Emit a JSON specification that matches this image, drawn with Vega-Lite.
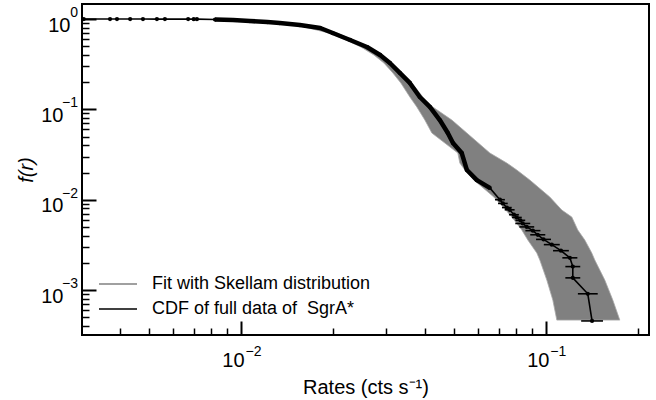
{
  "$schema": "https://vega.github.io/schema/vega-lite/v6.json",
  "width": 567,
  "height": 331,
  "autosize": "none",
  "padding": {"left": 82, "top": 4, "right": 7, "bottom": 65},
  "config": {
    "view": {"stroke": "black", "strokeWidth": 2},
    "font": "Liberation Sans",
    "axis": {"grid": false, "domain": false, "labelColor": "black", "tickColor": "black", "titleColor": "black", "labelFlush": false, "labelOverlap": false, "labelBound": false}
  },
  "datasets": {
    "band": [
      {"f": 0.9748, "lo": 0.00941, "hi": 0.01008},
      {"f": 0.9264, "lo": 0.01172, "hi": 0.01264},
      {"f": 0.8582, "lo": 0.01514, "hi": 0.01609},
      {"f": 0.6999, "lo": 0.01943, "hi": 0.02065},
      {"f": 0.5856, "lo": 0.02210, "hi": 0.02329},
      {"f": 0.4898, "lo": 0.02475, "hi": 0.02628},
      {"f": 0.3995, "lo": 0.02730, "hi": 0.02900},
      {"f": 0.3257, "lo": 0.02944, "hi": 0.03127},
      {"f": 0.2525, "lo": 0.03151, "hi": 0.03372},
      {"f": 0.1956, "lo": 0.03346, "hi": 0.03637},
      {"f": 0.1369, "lo": 0.03582, "hi": 0.03951},
      {"f": 0.1061, "lo": 0.03776, "hi": 0.04261},
      {"f": 0.07617, "lo": 0.04011, "hi": 0.04918},
      {"f": 0.05469, "lo": 0.04229, "hi": 0.05508},
      {"f": 0.03284, "lo": 0.05145, "hi": 0.06554},
      {"f": 0.02545, "lo": 0.05224, "hi": 0.07449},
      {"f": 0.02130, "lo": 0.05426, "hi": 0.08033},
      {"f": 0.01650, "lo": 0.05806, "hi": 0.08862},
      {"f": 0.01070, "lo": 0.06754, "hi": 0.10307},
      {"f": 0.007683, "lo": 0.07393, "hi": 0.11283},
      {"f": 0.006427, "lo": 0.07737, "hi": 0.12169},
      {"f": 0.004613, "lo": 0.08341, "hi": 0.12733},
      {"f": 0.003577, "lo": 0.08730, "hi": 0.13424},
      {"f": 0.002568, "lo": 0.09344, "hi": 0.14152},
      {"f": 0.002148, "lo": 0.09558, "hi": 0.14477},
      {"f": 0.001290, "lo": 0.10076, "hi": 0.15612},
      {"f": 0.000775, "lo": 0.10543, "hi": 0.16585},
      {"f": 0.000465, "lo": 0.10866, "hi": 0.17485}
    ],
    "cdf": [
      {"x": 0.00305, "f": 1.0},
      {"x": 0.00372, "f": 0.9995},
      {"x": 0.00392, "f": 0.9994},
      {"x": 0.00433, "f": 0.9991},
      {"x": 0.00477, "f": 0.9986},
      {"x": 0.00530, "f": 0.9982},
      {"x": 0.00563, "f": 0.9977},
      {"x": 0.00671, "f": 0.9973},
      {"x": 0.00700, "f": 0.9968},
      {"x": 0.00717, "f": 0.9964},
      {"x": 0.00822, "f": 0.987},
      {"x": 0.00941, "f": 0.975},
      {"x": 0.0107, "f": 0.950},
      {"x": 0.0122, "f": 0.926},
      {"x": 0.0134, "f": 0.903},
      {"x": 0.0156, "f": 0.858},
      {"x": 0.0182, "f": 0.795},
      {"x": 0.0200, "f": 0.700},
      {"x": 0.0228, "f": 0.586},
      {"x": 0.0259, "f": 0.490},
      {"x": 0.0286, "f": 0.400},
      {"x": 0.0308, "f": 0.326},
      {"x": 0.0332, "f": 0.253},
      {"x": 0.0358, "f": 0.196},
      {"x": 0.0386, "f": 0.137},
      {"x": 0.0417, "f": 0.106},
      {"x": 0.0449, "f": 0.0762},
      {"x": 0.0477, "f": 0.0547},
      {"x": 0.0496, "f": 0.0424},
      {"x": 0.0530, "f": 0.0328},
      {"x": 0.0551, "f": 0.0213},
      {"x": 0.0594, "f": 0.0165},
      {"x": 0.0655, "f": 0.0135},
      {"x": 0.0707, "f": 0.0100, "xlo": 0.0681, "xhi": 0.0734},
      {"x": 0.0723, "f": 0.00909, "xlo": 0.0697, "xhi": 0.0750},
      {"x": 0.0745, "f": 0.00818, "xlo": 0.0718, "xhi": 0.0773},
      {"x": 0.0761, "f": 0.00773, "xlo": 0.0733, "xhi": 0.0790},
      {"x": 0.0786, "f": 0.00682, "xlo": 0.0757, "xhi": 0.0816},
      {"x": 0.0803, "f": 0.00636, "xlo": 0.0774, "xhi": 0.0834},
      {"x": 0.0825, "f": 0.00591, "xlo": 0.0795, "xhi": 0.0856},
      {"x": 0.0840, "f": 0.005455, "xlo": 0.0794, "xhi": 0.0889},
      {"x": 0.0866, "f": 0.0050, "xlo": 0.0819, "xhi": 0.0916},
      {"x": 0.0907, "f": 0.004545, "xlo": 0.0857, "xhi": 0.0960},
      {"x": 0.0941, "f": 0.004091, "xlo": 0.0889, "xhi": 0.0996},
      {"x": 0.0983, "f": 0.003636, "xlo": 0.0929, "xhi": 0.1040},
      {"x": 0.1046, "f": 0.003182, "xlo": 0.0985, "xhi": 0.1111},
      {"x": 0.1121, "f": 0.002727, "xlo": 0.1056, "xhi": 0.1190},
      {"x": 0.1199, "f": 0.002273, "xlo": 0.1133, "xhi": 0.1269},
      {"x": 0.1226, "f": 0.001818, "xlo": 0.1159, "xhi": 0.1297},
      {"x": 0.1226, "f": 0.001364, "xlo": 0.1159, "xhi": 0.1297},
      {"x": 0.1373, "f": 0.000909, "xlo": 0.1274, "xhi": 0.1480},
      {"x": 0.1418, "f": 0.000455, "xlo": 0.1306, "xhi": 0.1540}
    ]
  },
  "resolve": {"axis": {"x": "independent", "y": "independent"}},
  "layer": [
    {
      "data": {"name": "band"},
      "mark": {"type": "area", "orient": "horizontal", "stroke": "#a8a8a8", "strokeWidth": 0.8},
      "encoding": {
        "y": {"field": "f", "type": "quantitative",
          "scale": {"type": "log", "domain": [0.000318, 1.466], "nice": false},
          "axis": {"orient": "left", "values": [0.001, 0.01, 0.1, 1], "labels": false, "ticks": true, "tickSize": -14, "tickWidth": 2, "title": null}},
        "x": {"field": "lo", "type": "quantitative",
          "scale": {"type": "log", "domain": [0.00301, 0.218], "nice": false},
          "axis": {"orient": "bottom", "values": [0.01, 0.1], "labels": false, "ticks": true, "tickSize": -14, "tickWidth": 2, "title": null}},
        "x2": {"field": "hi"},
        "color": {"datum": "Fit with Skellam distribution", "type": "nominal",
          "scale": {"domain": ["Fit with Skellam distribution", "CDF of full data of \u00a0SgrA*"], "range": ["#808080", "#000000"]},
          "legend": {
            "orient": "none", "legendX": 16, "legendY": 269.5, "title": null,
            "symbolType": "M-1,0H3", "symbolSize": 361, "symbolStrokeWidth": 1.5,
            "labelFontSize": 18, "labelFont": "Liberation Sans", "labelOffset": 33, "rowPadding": 5, "labelLimit": 500,
            "encode": {
              "labels": {"update": {"fill": {"signal": "indexof(datum.label, 'CDF') >= 0 ? '#000000' : '#8c8c8c'"}}},
              "symbols": {
                "shape": {"condition": {"test": "indexof(datum.label, 'CDF') >= 0", "value": "M-1,0H3M1.17,0A0.17,0.17,0,1,1,0.83,0A0.17,0.17,0,1,1,1.17,0Z"}, "value": "M-1,0H3"},
                "fill": {"condition": {"test": "indexof(datum.label, 'CDF') >= 0", "value": "#000000"}, "value": "transparent"}
              }
            }
          }}
      }
    },
    {
      "data": {"name": "cdf"},
      "transform": [{"filter": "datum.f < 0.99 && datum.f > 0.0105"}],
      "mark": {"type": "line", "color": "black", "strokeWidth": 4.5, "strokeJoin": "round"},
      "encoding": {
        "x": {"field": "x", "type": "quantitative",
          "axis": {"orient": "bottom", "values": [0.004, 0.005, 0.006, 0.007, 0.008, 0.009, 0.02, 0.03, 0.04, 0.05, 0.06, 0.07, 0.08, 0.09, 0.2], "labels": false, "ticks": true, "tickSize": -7, "tickWidth": 1.5, "title": null}},
        "y": {"field": "f", "type": "quantitative",
          "axis": {"orient": "left", "values": [0.0004, 0.0005, 0.0006, 0.0007, 0.0008, 0.0009, 0.002, 0.003, 0.004, 0.005, 0.006, 0.007, 0.008, 0.009, 0.02, 0.03, 0.04, 0.05, 0.06, 0.07, 0.08, 0.09, 0.2, 0.3, 0.4, 0.5, 0.6, 0.7, 0.8, 0.9], "labels": false, "ticks": true, "tickSize": -7, "tickWidth": 1.5, "title": null}},
        "order": {"field": "f", "sort": "descending"}
      }
    },
    {
      "data": {"name": "cdf"},
      "mark": {"type": "line", "strokeWidth": 1.6},
      "encoding": {
        "x": {"field": "x", "type": "quantitative",
          "axis": {"orient": "bottom", "values": [0.01, 0.1], "ticks": false, "labelExpr": "'10'", "labelFontSize": 20, "labelOffset": -8, "labelBaseline": "middle", "labelPadding": 25,
            "title": "Rates (cts s\u207b\u00b9)", "titleFontSize": 20, "titleFontWeight": "normal", "titlePadding": 7}},
        "y": {"field": "f", "type": "quantitative",
          "axis": {"orient": "left", "values": [0.001, 0.01, 0.1, 1], "ticks": false, "labelExpr": "'10'", "labelFontSize": 20, "labelAlign": "right", "labelBaseline": "middle", "labelOffset": 6,
            "labelPadding": {"condition": {"test": "datum.value == 1", "value": 12}, "value": 19},
            "title": "f(r)", "titleFontSize": 20, "titleFontWeight": "normal", "titleFontStyle": "italic", "titlePadding": 4}},
        "color": {"datum": "CDF of full data of \u00a0SgrA*", "type": "nominal"},
        "order": {"field": "f", "sort": "descending"}
      }
    },
    {
      "data": {"name": "cdf"},
      "mark": {"type": "point", "filled": true, "color": "black", "size": 18, "opacity": 1},
      "encoding": {
        "x": {"field": "x", "type": "quantitative",
          "axis": {"orient": "bottom", "values": [0.01, 0.1], "ticks": false, "labelExpr": "'\u2212' + round(-log(datum.value)/LN10)", "labelFontSize": 14, "labelAlign": "left", "labelOffset": 4, "labelBaseline": "middle", "labelPadding": 16, "title": null}},
        "y": {"field": "f", "type": "quantitative",
          "axis": {"orient": "left", "values": [0.001, 0.01, 0.1, 1], "ticks": false, "labelExpr": "datum.value == 1 ? '0' : '\u2212' + round(-log(datum.value)/LN10)", "labelFontSize": 14, "labelAlign": "right", "labelBaseline": "middle", "labelOffset": -6.5, "labelPadding": 4.5, "title": null}}
      }
    },
    {
      "data": {"name": "cdf"},
      "transform": [{"filter": "isValid(datum.xlo)"}],
      "mark": {"type": "rule", "color": "black", "strokeWidth": 1.6},
      "encoding": {
        "x": {"field": "xlo", "type": "quantitative", "axis": null},
        "x2": {"field": "xhi"},
        "y": {"field": "f", "type": "quantitative", "axis": null}
      }
    }
  ]
}
